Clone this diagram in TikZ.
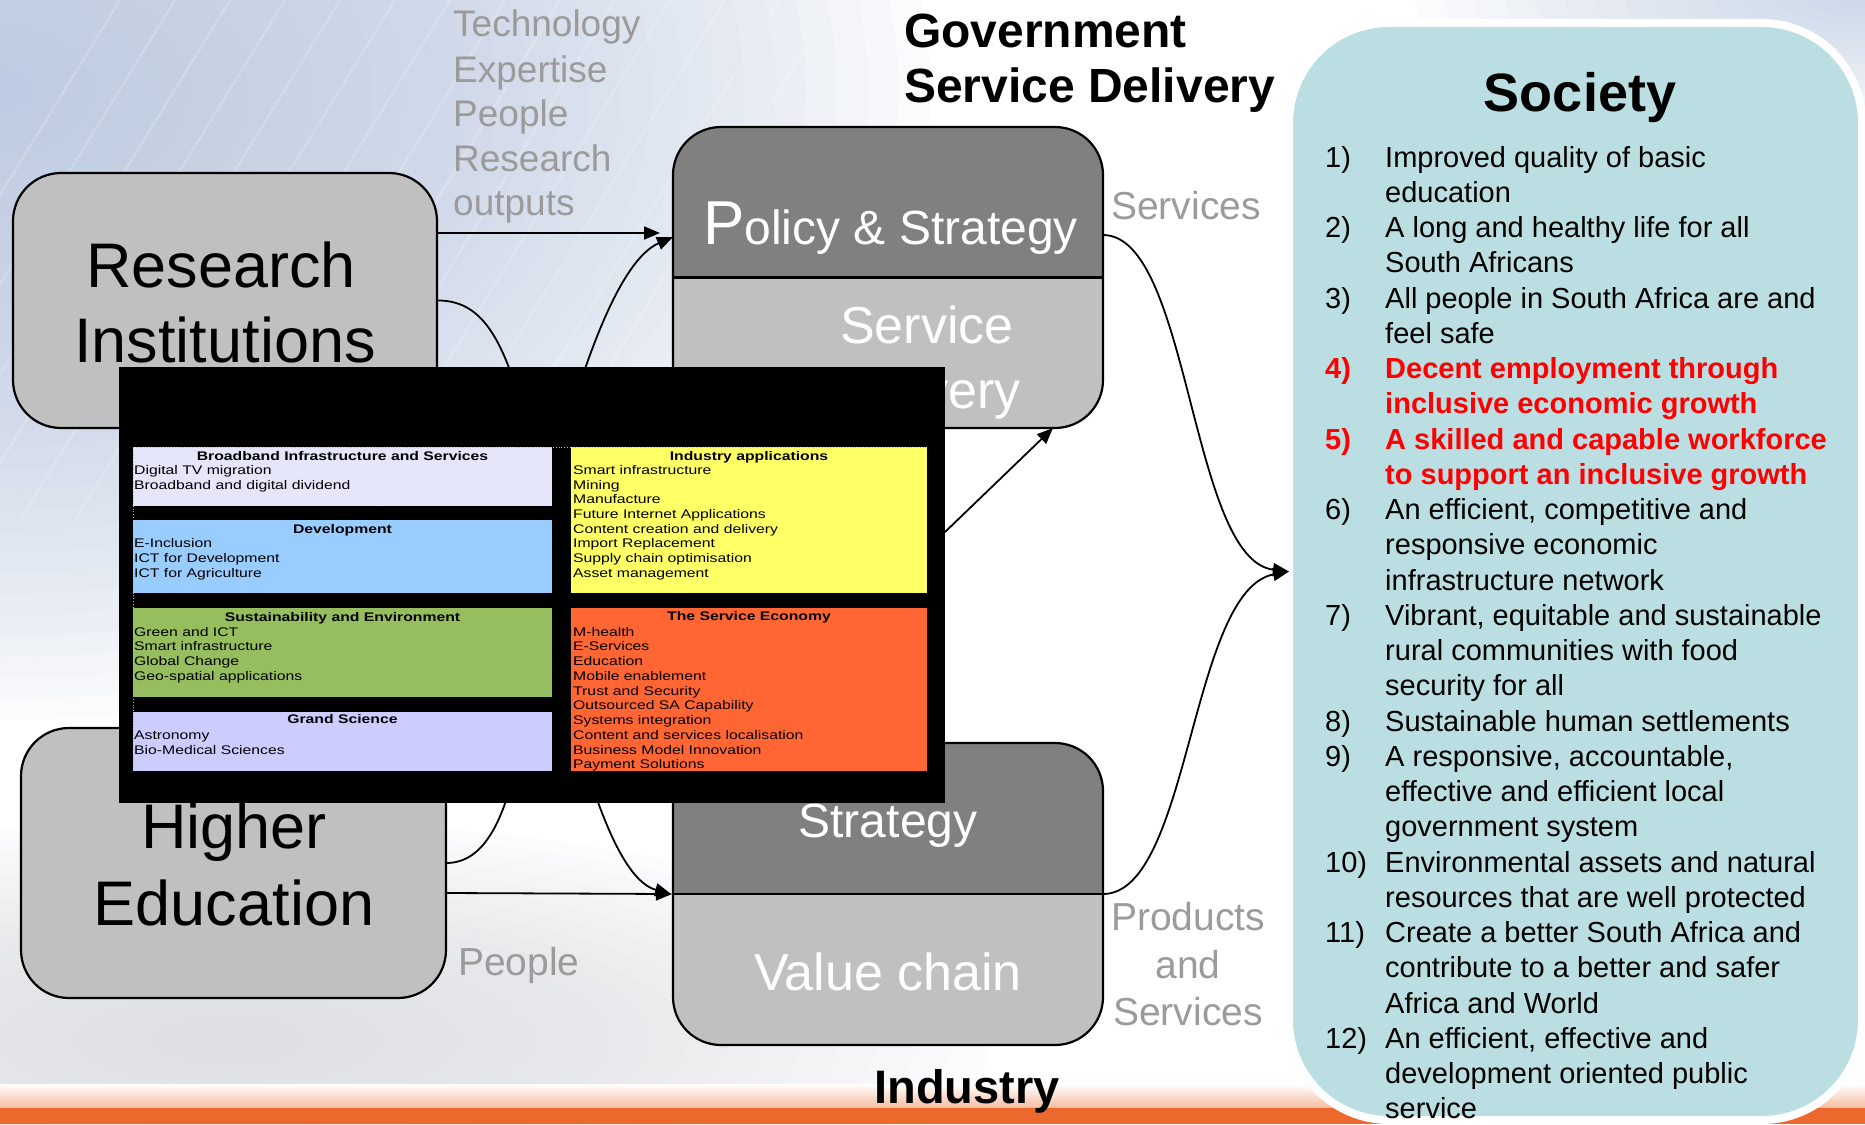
\documentclass[tikz,border=0pt]{standalone}
\usepackage{fontspec}
\setmainfont{Liberation Sans}
\newfontfamily\boxfont[FakeStretch=1.26]{Liberation Sans}
\usetikzlibrary{arrows.meta}
\definecolor{lgray}{RGB}{192,192,192}
\definecolor{dgray}{RGB}{128,128,128}
\definecolor{txtgray}{RGB}{155,155,155}
\definecolor{socblue}{RGB}{186,222,226}
\definecolor{skytone}{RGB}{184,200,226}
\definecolor{floorgray}{RGB}{215,216,222}
\definecolor{bandorange}{RGB}{236,104,44}
\definecolor{bbLav}{RGB}{230,230,250}
\definecolor{bbBlue}{RGB}{153,204,255}
\definecolor{bbGreen}{RGB}{150,190,94}
\definecolor{bbPeri}{RGB}{204,204,255}
\definecolor{bbYellow}{RGB}{255,255,102}
\definecolor{bbOrange}{RGB}{255,102,51}
\definecolor{redtxt}{RGB}{255,0,0}
\newcommand\bl[4]{\node[bline, anchor=base west] (#1) at (#2,#3) {#4};}
\newcommand\socn[3]{\node[soct, anchor=base west] (#1) at (1325,{167+35.25*#2}) {#3};}
\newcommand\soct[3]{\node[soct, anchor=base west] (#1) at (1385,{167+35.25*#2}) {#3};}
\newcommand\socrn[3]{\node[soct, text=redtxt, font=\bfseries\fontsize{29}{29}\selectfont, anchor=base west] (#1) at (1325,{167+35.25*#2}) {#3};}
\newcommand\socrt[3]{\node[soct, text=redtxt, font=\bfseries\fontsize{29}{29}\selectfont, anchor=base west] (#1) at (1385,{167+35.25*#2}) {#3};}
\begin{document}
\begin{tikzpicture}[x=1pt,y=-1pt,
  box/.style={draw=black, line width=2.2pt, rounded corners=48pt, inner sep=0pt, outer sep=0pt},
  conn/.style={line width=1.8pt, -{Triangle[length=16pt,width=13pt]}},
  bigtxt/.style={inner sep=0pt, font=\fontsize{63}{63}\selectfont},
  whtxt/.style={inner sep=0pt, text=white, font=\fontsize{52}{52}\selectfont},
  graytxt/.style={inner sep=0pt, text=txtgray, font=\fontsize{39}{39}\selectfont},
  listtxt/.style={inner sep=0pt, text=txtgray, font=\fontsize{37}{37}\selectfont, anchor=base west},
  ibox/.style={inner sep=0pt, outer sep=0pt, anchor=north west},
  btitle/.style={inner sep=0pt, anchor=base, font=\boxfont\bfseries\fontsize{12.5}{12.5}\selectfont},
  bline/.style={inner sep=0pt, font=\boxfont\fontsize{12.5}{12.5}\selectfont},
  soct/.style={inner sep=0pt, font=\fontsize{29}{29}\selectfont},
  ttl/.style={inner sep=0pt, font=\bfseries\fontsize{48}{48}\selectfont}]
% ---------- background ----------
\path[use as bounding box] (0,0) rectangle (1865,1124);
\fill[white] (0,0) rectangle (1865,1124);
\begin{scope}
  \clip (0,0) rectangle (1865,1124);
  \foreach \i in {1,...,30} {
    \fill[skytone, opacity=0.055] (0,90) ellipse [x radius={31*\i}, y radius={21*\i}];
  }
  \foreach \i in {1,...,20} {
    \fill[floorgray, opacity=0.06] (230,1040) ellipse [x radius={38*\i}, y radius={11*\i}];
  }
  \foreach \i in {1,...,15} {
    \fill[skytone, opacity=0.06] (1865,0) ellipse [x radius={30*\i}, y radius={8*\i}];
  }
  \foreach \k in {0,...,13} {
    \draw[white, opacity=0.18, line width=2.5pt] ({-200+55*\k},520) -- ({120+55*\k},0);
  }
  \shade[top color=white, bottom color=bandorange!45] (0,1084) rectangle (1865,1108);
  \fill[bandorange] (0,1108) rectangle (1865,1124);
\end{scope}
% ---------- Research Institutions ----------
\node[box, fill=lgray, minimum width=424pt, minimum height=255pt, anchor=north west] (ri) at (13,173) {};
\node[bigtxt, anchor=base] (riA) at (221,287) {Research};
\node[bigtxt, anchor=base] (riB) at (225,362) {Institutions};
% ---------- Higher Education ----------
\node[box, fill=lgray, minimum width=425pt, minimum height=270pt, anchor=north west] (he) at (21,728) {};
\node[bigtxt, anchor=base] (heA) at (234,848) {Higher};
\node[bigtxt, anchor=base] (heB) at (234,925) {Education};
% ---------- Government box ----------
\fill[lgray, rounded corners=48pt] (673,127) rectangle (1103,428);
\begin{scope}
  \clip (660,100) rectangle (1120,278);
  \fill[dgray, rounded corners=48pt] (673,127) rectangle (1103,428);
\end{scope}
\node[box, minimum width=430pt, minimum height=301pt, anchor=north west] (gov) at (673,127) {};
\draw[line width=2.2pt] (gov.west) -- (gov.east);
\node[inner sep=0pt, text=white, font=\fontsize{48}{48}\selectfont, anchor=base west] (govA) at (703,244) {{\fontsize{62}{62}\selectfont P}olicy \& Strategy};
\node[whtxt, anchor=base] (govB) at (927,343) {Service};
\node[whtxt, anchor=base] (govC) at (927,408) {Delivery};
% ---------- Industry box ----------
\fill[lgray, rounded corners=48pt] (673,743) rectangle (1103,1045);
\begin{scope}
  \clip (660,730) rectangle (1120,894);
  \fill[dgray, rounded corners=48pt] (673,743) rectangle (1103,1045);
\end{scope}
\node[box, minimum width=430pt, minimum height=302pt, anchor=north west] (ind) at (673,743) {};
\draw[line width=2.2pt] (ind.west) -- (ind.east);
\node[inner sep=0pt, text=white, font=\fontsize{48}{48}\selectfont, anchor=base] (indA) at (888,837) {Strategy};
\node[whtxt, anchor=base] (indB) at (888,990) {Value chain};
% ---------- gray labels ----------
\node[listtxt] (lt1) at (453,37) {Technology};
\node[listtxt] (lt2) at (453,82) {Expertise};
\node[listtxt] (lt3) at (453,126) {People};
\node[listtxt] (lt4) at (453,171) {Research};
\node[listtxt] (lt5) at (453,215) {outputs};
\node[graytxt, anchor=base west] (lsv) at (1111,219) {Services};
\node[graytxt, anchor=base] (lp1) at (1188,930) {Products};
\node[graytxt, anchor=base] (lp2) at (1188,978) {and};
\node[graytxt, anchor=base] (lp3) at (1188,1025) {Services};
\node[graytxt, anchor=base west] (lpe) at (458,975) {People};
% ---------- connectors (behind overlay) ----------
\draw[conn] ([yshift=67.5pt]ri.east) -- ([xshift=-13pt,yshift=44.5pt]gov.west);
\draw[conn] (ri.east) .. controls (480,300) and (500,335) .. (520,400) -- (565,690) .. controls (590,790) and (620,880) .. ([xshift=-2pt]ind.west);
\draw[conn] (he.east) .. controls (480,863) and (500,830) .. (515,770) -- (560,450) .. controls (585,360) and (620,260) .. ([yshift=40.5pt]gov.west);
\draw[conn] ([yshift=-30pt]he.east) -- ([xshift=-1pt]ind.west);
% ---------- overlay black panel ----------
\node[fill=black, inner sep=0pt, outer sep=0pt, minimum width=826pt, minimum height=436pt, anchor=north west] (ov) at (119,367) {};
\node[ibox, fill=bbLav, minimum width=419pt, minimum height=59pt] (b1) at (133,447) {};
\node[ibox, fill=bbBlue, minimum width=419pt, minimum height=73pt] (b2) at (133,520) {};
\node[ibox, fill=bbGreen, minimum width=419pt, minimum height=89pt] (b3) at (133,608) {};
\node[ibox, fill=bbPeri, minimum width=419pt, minimum height=59pt] (b4) at (133,712) {};
\node[ibox, fill=bbYellow, minimum width=356pt, minimum height=146pt] (b5) at (571,447) {};
\node[ibox, fill=bbOrange, minimum width=356pt, minimum height=163pt] (b6) at (571,608) {};
\draw[gray!60, dotted, line width=0.8pt] (b1.north west) -- (b5.north east);
\draw[gray!60, dotted, line width=0.8pt] (b1.north west) -- (b4.south west);
% left column texts
\node[btitle] (t1) at (342.5,460) {Broadband Infrastructure and Services};
\bl{l11}{134}{474}{Digital TV migration}
\bl{l12}{134}{489}{Broadband and digital dividend}
\node[btitle] (t2) at (342.5,533) {Development};
\bl{l21}{134}{547}{E-Inclusion}
\bl{l22}{134}{562}{ICT for Development}
\bl{l23}{134}{577}{ICT for Agriculture}
\node[btitle] (t3) at (342.5,621) {Sustainability and Environment};
\bl{l31}{134}{636}{Green and ICT}
\bl{l32}{134}{650}{Smart infrastructure}
\bl{l33}{134}{665}{Global Change}
\bl{l34}{134}{680}{Geo-spatial applications}
\node[btitle] (t4) at (342.5,723) {Grand Science};
\bl{l41}{134}{739}{Astronomy}
\bl{l42}{134}{754}{Bio-Medical Sciences}
% right column texts
\node[btitle] (t5) at (749,460) {Industry applications};
\bl{l51}{573}{474}{Smart infrastructure}
\bl{l52}{573}{489}{Mining}
\bl{l53}{573}{503}{Manufacture}
\bl{l54}{573}{518}{Future Internet Applications}
\bl{l55}{573}{533}{Content creation and delivery}
\bl{l56}{573}{547}{Import Replacement}
\bl{l57}{573}{562}{Supply chain optimisation}
\bl{l58}{573}{577}{Asset management}
\node[btitle] (t6) at (749,620) {The Service Economy};
\bl{l61}{573}{636}{M-health}
\bl{l62}{573}{650}{E-Services}
\bl{l63}{573}{665}{Education}
\bl{l64}{573}{680}{Mobile enablement}
\bl{l65}{573}{695}{Trust and Security}
\bl{l66}{573}{709}{Outsourced SA Capability}
\bl{l67}{573}{724}{Systems integration}
\bl{l68}{573}{739}{Content and services localisation}
\bl{l69}{573}{754}{Business Model Innovation}
\bl{l60}{573}{768}{Payment Solutions}
\draw[conn] ([yshift=53pt]ov.east) -- ([xshift=165pt]gov.south);
% ---------- Society ----------
\node[draw=white, line width=8pt, fill=socblue, rounded corners=100pt, inner sep=0pt, outer sep=0pt, minimum width=573pt, minimum height=1097pt, anchor=north west] (soc) at (1289,23) {};
\node[inner sep=0pt, font=\bfseries\fontsize{54}{54}\selectfont, anchor=base] (socT) at (1580,111) {Society};
\socn{n1}{0}{1)}   \soct{s1a}{0}{Improved quality of basic}
\soct{s1b}{1}{education}
\socn{n2}{2}{2)}   \soct{s2a}{2}{A long and healthy life for all}
\soct{s2b}{3}{South Africans}
\socn{n3}{4}{3)}   \soct{s3a}{4}{All people in South Africa are and}
\soct{s3b}{5}{feel safe}
\socrn{n4}{6}{4)}  \socrt{s4a}{6}{Decent employment through}
\socrt{s4b}{7}{inclusive economic growth}
\socrn{n5}{8}{5)}  \socrt{s5a}{8}{A skilled and capable workforce}
\socrt{s5b}{9}{to support an inclusive growth}
\socn{n6}{10}{6)}  \soct{s6a}{10}{An efficient, competitive and}
\soct{s6b}{11}{responsive economic}
\soct{s6c}{12}{infrastructure network}
\socn{n7}{13}{7)}  \soct{s7a}{13}{Vibrant, equitable and sustainable}
\soct{s7b}{14}{rural communities with food}
\soct{s7c}{15}{security for all}
\socn{n8}{16}{8)}  \soct{s8a}{16}{Sustainable human settlements}
\socn{n9}{17}{9)}  \soct{s9a}{17}{A responsive, accountable,}
\soct{s9b}{18}{effective and efficient local}
\soct{s9c}{19}{government system}
\socn{n10}{20}{10)} \soct{s10a}{20}{Environmental assets and natural}
\soct{s10b}{21}{resources that are well protected}
\socn{n11}{22}{11)} \soct{s11a}{22}{Create a better South Africa and}
\soct{s11b}{23}{contribute to a better and safer}
\soct{s11c}{24}{Africa and World}
\socn{n12}{25}{12)} \soct{s12a}{25}{An efficient, effective and}
\soct{s12b}{26}{development oriented public}
\soct{s12c}{27}{service}
% ---------- connectors to Society ----------
\draw[conn] ([yshift=42.5pt]gov.east) .. controls (1190,235) and (1190,560) .. (soc.west);
\draw[conn] (ind.east) .. controls (1190,894) and (1190,590) .. (soc.west);
% ---------- titles ----------
\node[ttl, anchor=base west] (gtA) at (904,48) {Government};
\node[ttl, anchor=base west] (gtB) at (904,102) {Service Delivery};
\node[inner sep=0pt, font=\bfseries\fontsize{47}{47}\selectfont, anchor=base] (indT) at (967,1103) {Industry};
\end{tikzpicture}
\end{document}
